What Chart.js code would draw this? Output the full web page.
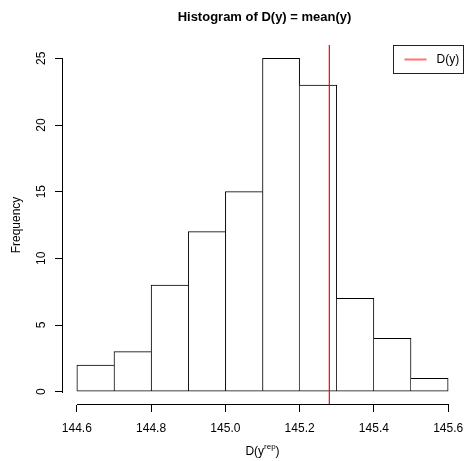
<!DOCTYPE html>
<html>
<head>
<meta charset="utf-8">
<script src="https://cdn.jsdelivr.net/npm/chart.js@4/dist/chart.umd.min.js"></script>
<style>
  html, body { margin: 0; padding: 0; background: #fff; }
  #wrap { width: 465px; height: 461px; }
</style>
</head>
<body>
<div id="wrap"><canvas id="hist" width="465" height="461"></canvas></div>
<script>
// ── Histogram of replicated means, with observed statistic ──

const binCenters = [144.65, 144.75, 144.85, 144.95, 145.05, 145.15, 145.25, 145.35, 145.45, 145.55];
const counts = [2, 3, 8, 12, 15, 25, 23, 7, 4, 1];
const observed = 145.28;
const xTicks = [144.6, 144.8, 145.0, 145.2, 145.4, 145.6];
const yTicks = [0, 5, 10, 15, 20, 25];

const FONT = 'Liberation Sans, Arial, sans-serif';

// shared edges are drawn once, by the taller neighbour
function edgeWidths(ctx) {
  const i = ctx.dataIndex;
  const c = counts[i];
  const prev = i > 0 ? counts[i - 1] : -1;
  const next = i < counts.length - 1 ? counts[i + 1] : -1;
  return {
    top: 1,
    bottom: 1,
    left: c >= prev ? 1 : 0,
    right: c > next ? 1 : 0
  };
}

// R-style axes, labels, title and legend
const rDecor = {
  id: 'rDecor',
  afterDraw(chart) {
    const { ctx, chartArea: area } = chart;
    const xs = chart.scales.x;
    const ys = chart.scales.y;
    ctx.save();
    ctx.setLineDash([]);
    ctx.fillStyle = '#000';

    // axis lines only over the tick range
    const xa = Math.round(xs.getPixelForValue(xTicks[0]));
    const xb = Math.round(xs.getPixelForValue(xTicks[xTicks.length - 1]));
    const yBase = Math.round(area.bottom) - 1;
    ctx.fillRect(xa, yBase, xb - xa + 1, 1);

    const ya = Math.round(ys.getPixelForValue(yTicks[0]));
    const yb = Math.round(ys.getPixelForValue(yTicks[yTicks.length - 1]));
    const xBase = Math.round(area.left);
    ctx.fillRect(xBase, yb, 1, ya - yb + 1);

    // rotated y tick labels
    ctx.font = '12px ' + FONT;
    ctx.textAlign = 'center';
    ctx.textBaseline = 'middle';
    yTicks.forEach(v => {
      const ty = ys.getPixelForValue(v);
      ctx.save();
      ctx.translate(42, ty);
      ctx.rotate(-Math.PI / 2);
      ctx.fillText(String(v), 0, 0);
      ctx.restore();
    });

    // y axis title
    ctx.save();
    ctx.translate(17, (area.top + area.bottom) / 2);
    ctx.rotate(-Math.PI / 2);
    ctx.fillText('Frequency', 0, 0);
    ctx.restore();

    // x axis title with superscript
    const main = 'D(y';
    const sup = 'rep';
    const close = ')';
    ctx.font = '12px ' + FONT;
    const wMain = ctx.measureText(main).width;
    const wClose = ctx.measureText(close).width;
    ctx.font = '8px ' + FONT;
    const wSup = ctx.measureText(sup).width;
    const cx = (xs.getPixelForValue(xTicks[0]) + xs.getPixelForValue(xTicks[xTicks.length - 1])) / 2;
    let tx = cx - (wMain + wSup + wClose) / 2;
    const baseY = 455;
    ctx.textAlign = 'left';
    ctx.textBaseline = 'alphabetic';
    ctx.font = '12px ' + FONT;
    ctx.fillText(main, tx, baseY);
    tx += wMain;
    ctx.font = '8px ' + FONT;
    ctx.fillText(sup, tx, baseY - 6);
    tx += wSup;
    ctx.font = '12px ' + FONT;
    ctx.fillText(close, tx, baseY);

    // title
    ctx.font = 'bold 13px ' + FONT;
    ctx.textAlign = 'center';
    ctx.textBaseline = 'middle';
    ctx.fillText('Histogram of D(y) = mean(y)', (area.left + area.right) / 2 + 2, 17);

    // legend box in the top-right corner
    const lw = 70, lh = 28;
    const lx = Math.round(area.right) - lw + 0.5;
    const ly = Math.round(area.top) + 0.5;
    ctx.lineWidth = 1;
    ctx.strokeStyle = '#222';
    ctx.strokeRect(lx, ly, lw, lh);
    ctx.strokeStyle = 'rgba(255,0,0,0.55)';
    ctx.lineWidth = 2;
    ctx.beginPath();
    ctx.moveTo(lx + 11, ly + 14);
    ctx.lineTo(lx + 33, ly + 14);
    ctx.stroke();
    ctx.font = '12px ' + FONT;
    ctx.textAlign = 'left';
    ctx.fillText('D(y)', lx + 43, ly + 14);

    ctx.restore();
  }
};

new Chart(document.getElementById('hist'), {
  type: 'bar',
  data: {
    datasets: [
      {
        type: 'bar',
        data: binCenters.map((x, i) => ({ x, y: counts[i] })),
        backgroundColor: '#ffffff',
        borderColor: '#000000',
        borderWidth: edgeWidths,
        borderSkipped: false,
        barPercentage: 1,
        categoryPercentage: 1,
        order: 2
      },
      {
        type: 'line',
        data: [{ x: observed, y: -1 }, { x: observed, y: 26 }],
        borderColor: '#ff0000',
        borderWidth: 1.2,
        pointRadius: 0,
        fill: false,
        order: 1
      }
    ]
  },
  options: {
    responsive: false,
    animation: false,
    events: [],
    layout: { padding: { top: 45, right: 2, left: 0, bottom: 0 } },
    plugins: {
      legend: { display: false },
      title: { display: false },
      tooltip: { enabled: false }
    },
    scales: {
      x: {
        type: 'linear',
        min: 144.56,
        max: 145.64,
        offset: false,
        afterFit: s => {
          s.height = 56;
          s.paddingLeft = 0;
          s.paddingRight = 0;
        },
        afterBuildTicks: s => { s.ticks = xTicks.map(v => ({ value: v })); },
        border: { display: false },
        grid: {
          offset: false,
          drawOnChartArea: false,
          drawTicks: true,
          tickLength: 7,
          tickColor: '#000',
          lineWidth: 1
        },
        ticks: {
          color: '#000',
          font: { family: FONT, size: 12 },
          padding: 9,
          maxRotation: 0,
          autoSkip: false,
          callback: v => Number(v).toFixed(1)
        }
      },
      y: {
        type: 'linear',
        min: -1,
        max: 26,
        afterFit: s => {
          s.width = 62;
          s.paddingTop = 0;
          s.paddingBottom = 0;
        },
        afterBuildTicks: s => { s.ticks = yTicks.map(v => ({ value: v })); },
        border: { display: false },
        grid: {
          drawOnChartArea: false,
          drawTicks: true,
          tickLength: 7,
          tickColor: '#000',
          lineWidth: 1
        },
        ticks: {
          color: 'rgba(0,0,0,0)',
          font: { family: FONT, size: 12 },
          autoSkip: false
        }
      }
    }
  },
  plugins: [rDecor]
});
</script>
</body>
</html>
